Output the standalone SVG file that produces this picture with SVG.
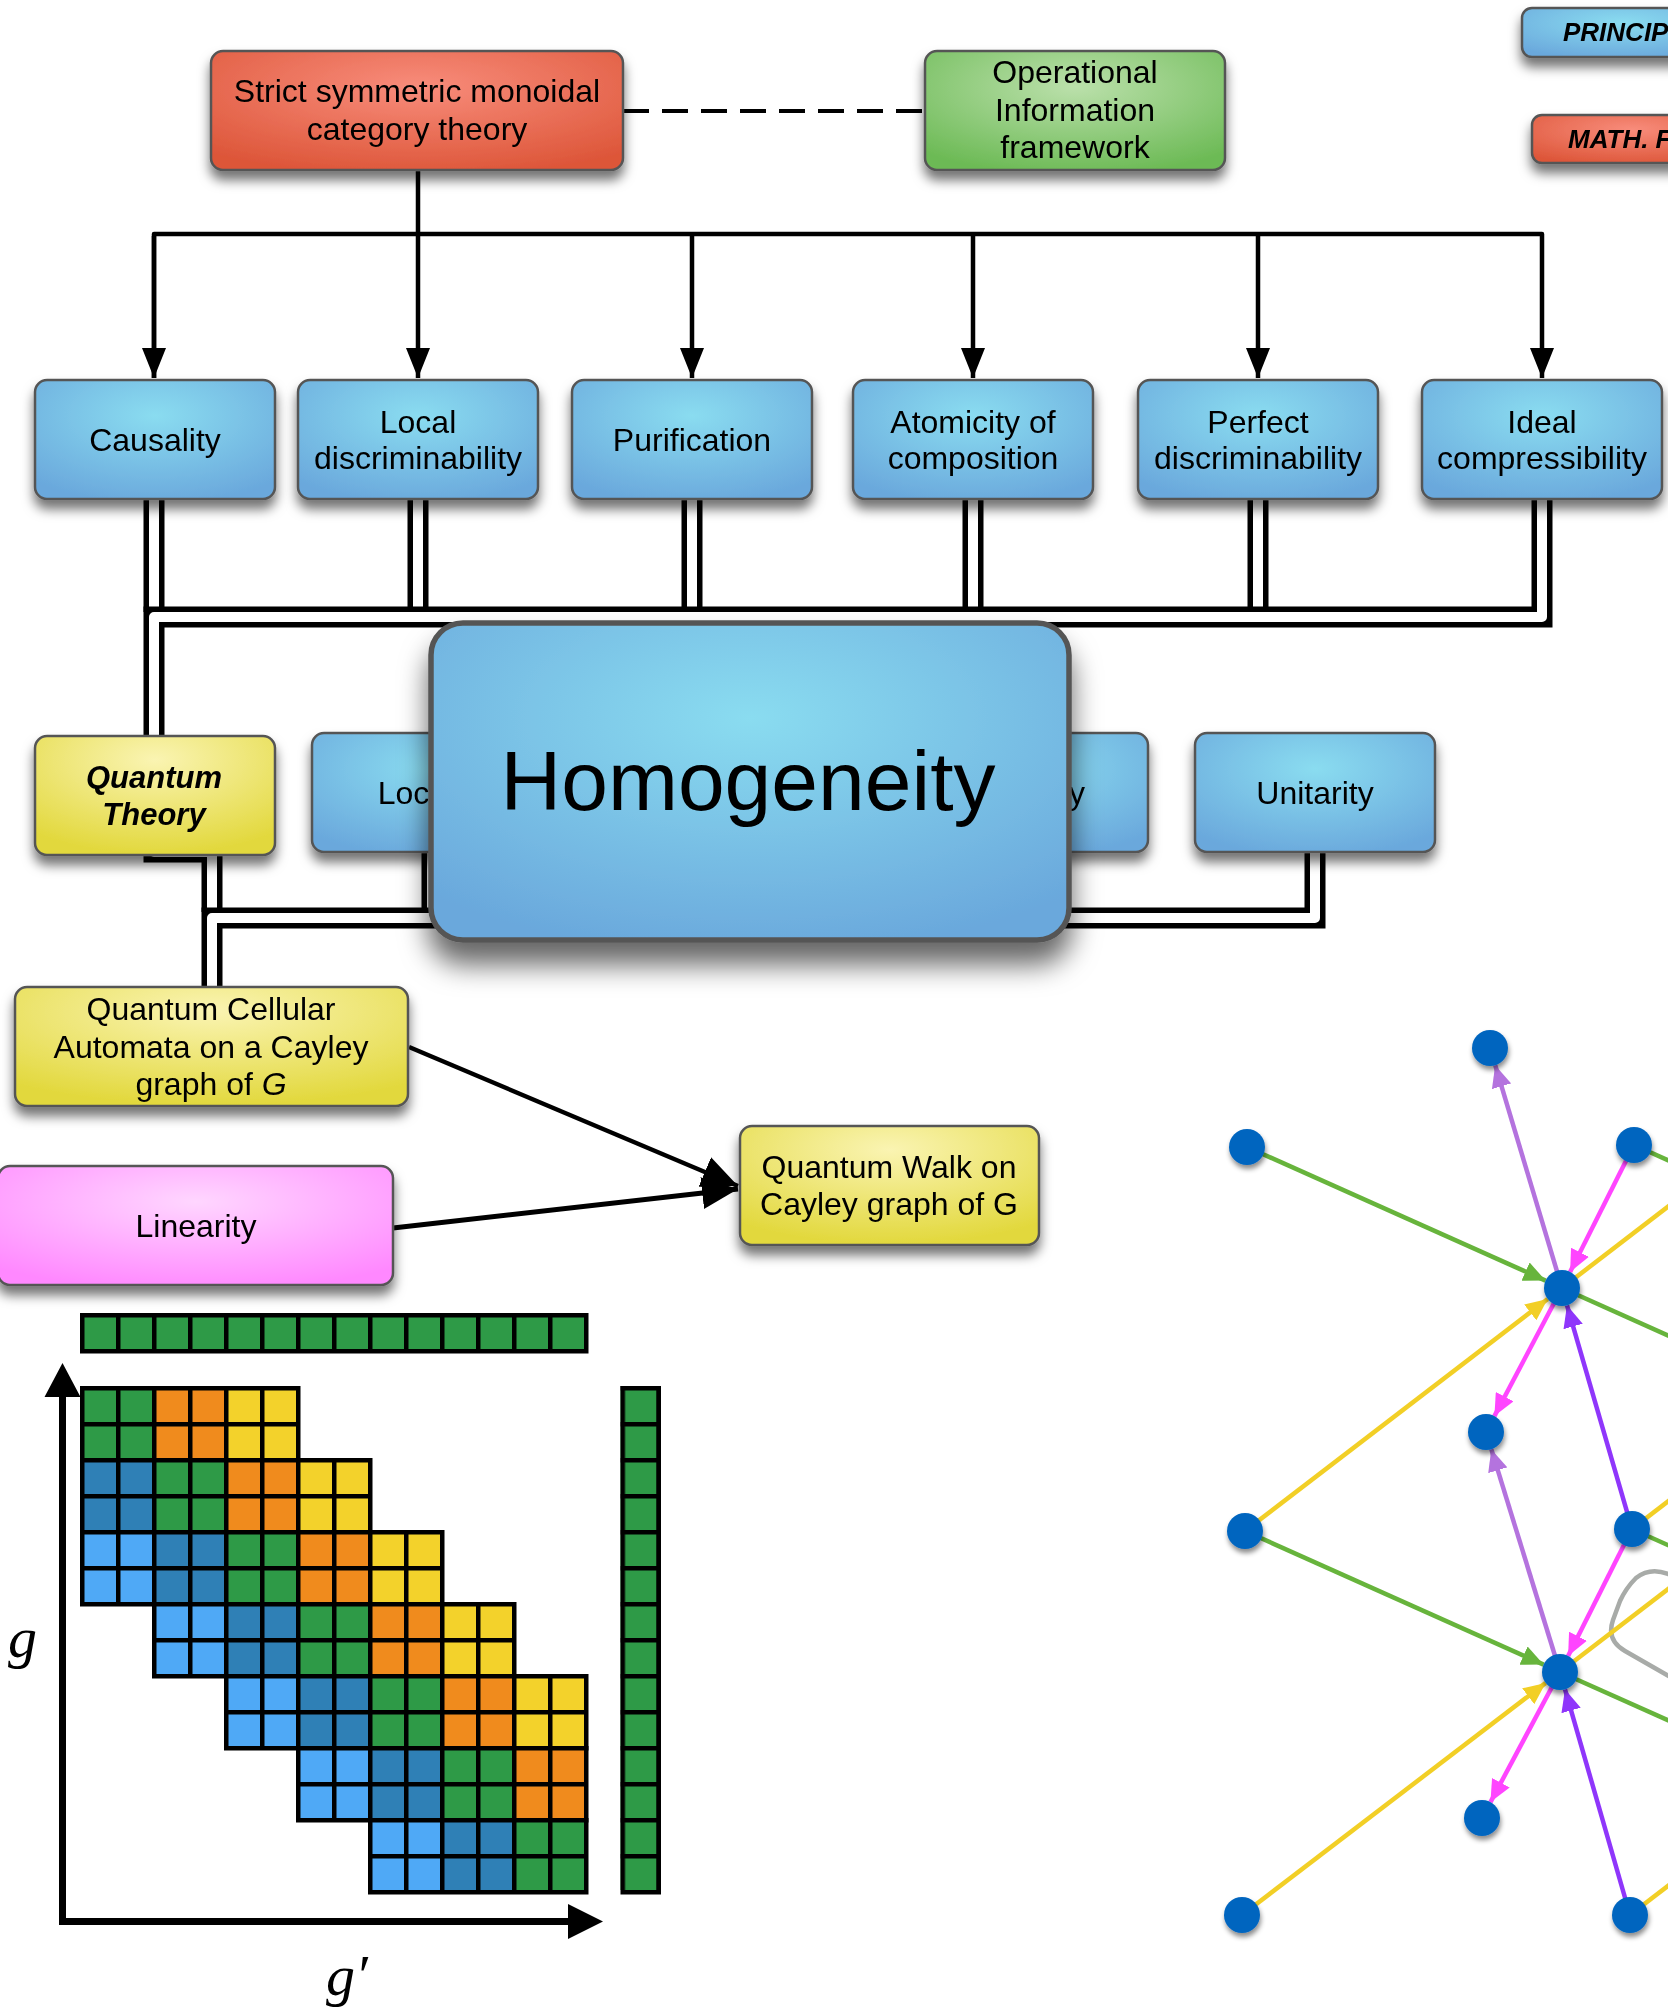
<svg xmlns="http://www.w3.org/2000/svg" width="1668" height="2007" viewBox="0 0 1668 2007">
<style>
.t{font-family:"Liberation Sans",Arial,Helvetica,sans-serif;font-size:32px;text-anchor:middle;fill:#000}
.tb{font-family:"Liberation Sans",Arial,Helvetica,sans-serif;font-weight:bold;font-style:italic;fill:#000}
.big{font-size:84px}
.box{stroke:#555;stroke-width:2.5}
.pipeB{fill:none;stroke:#000;stroke-width:21;stroke-linejoin:miter}
.pipeW{fill:none;stroke:#fff;stroke-width:10;stroke-linejoin:round}
.ln{fill:none;stroke:#000;stroke-width:4.5;stroke-linejoin:round}
.ge{fill:none;stroke-width:4.5}
.nd{fill:#0565bf}
.math{font-family:"Liberation Serif","Times New Roman",serif;font-style:italic;font-size:58px;fill:#000}
</style>
<defs>
<radialGradient id="gBlue" cx="0.5" cy="0.3" r="0.75"><stop offset="0" stop-color="#8adcf0"/><stop offset="1" stop-color="#6aa8dc"/></radialGradient>
<radialGradient id="gRed" cx="0.5" cy="0.3" r="0.75"><stop offset="0" stop-color="#f88c7b"/><stop offset="1" stop-color="#dd5639"/></radialGradient>
<radialGradient id="gGreen" cx="0.5" cy="0.3" r="0.75"><stop offset="0" stop-color="#bbe0ab"/><stop offset="1" stop-color="#6cba55"/></radialGradient>
<radialGradient id="gYellow" cx="0.5" cy="0.2" r="0.8"><stop offset="0" stop-color="#faf4b2"/><stop offset="1" stop-color="#e2d83c"/></radialGradient>
<radialGradient id="gPink" cx="0.5" cy="0.3" r="0.75"><stop offset="0" stop-color="#ffd6ff"/><stop offset="1" stop-color="#ff88ff"/></radialGradient>
<filter id="sh" x="-20%" y="-20%" width="140%" height="170%"><feDropShadow dx="0" dy="9" stdDeviation="6" flood-color="#000" flood-opacity="0.55"/></filter>
<filter id="shH" x="-20%" y="-20%" width="140%" height="150%"><feDropShadow dx="0" dy="22" stdDeviation="14" flood-color="#000" flood-opacity="0.6"/></filter>
<filter id="shN" x="-50%" y="-50%" width="200%" height="220%"><feDropShadow dx="1" dy="4" stdDeviation="2.5" flood-color="#000" flood-opacity="0.45"/></filter>
<marker id="at" markerUnits="userSpaceOnUse" markerWidth="30" markerHeight="24" refX="30" refY="12" orient="auto"><path d="M0 0 L30 12 L0 24 z" fill="#000"/></marker>
<marker id="ab" markerUnits="userSpaceOnUse" markerWidth="38" markerHeight="32" refX="36" refY="16" orient="auto"><path d="M0 0 L36 16 L0 32 z" fill="#000"/></marker>
<marker id="mG" markerUnits="userSpaceOnUse" markerWidth="22" markerHeight="20" refX="22" refY="10" orient="auto"><path d="M0 0 L22 10 L0 20 z" fill="#67b43c"/></marker>
<marker id="mY" markerUnits="userSpaceOnUse" markerWidth="22" markerHeight="20" refX="22" refY="10" orient="auto"><path d="M0 0 L22 10 L0 20 z" fill="#f2cf26"/></marker>
<marker id="mL" markerUnits="userSpaceOnUse" markerWidth="22" markerHeight="20" refX="22" refY="10" orient="auto"><path d="M0 0 L22 10 L0 20 z" fill="#b473de"/></marker>
<marker id="mM" markerUnits="userSpaceOnUse" markerWidth="22" markerHeight="20" refX="22" refY="10" orient="auto"><path d="M0 0 L22 10 L0 20 z" fill="#ff45ff"/></marker>
<marker id="mV" markerUnits="userSpaceOnUse" markerWidth="22" markerHeight="20" refX="22" refY="10" orient="auto"><path d="M0 0 L22 10 L0 20 z" fill="#8f36fb"/></marker>
<pattern id="pG" patternUnits="userSpaceOnUse" x="80" y="1386" width="36" height="36"><rect width="36" height="36" fill="#000"/><rect x="4.5" y="4.5" width="31.5" height="31.5" fill="#2e9a47"/></pattern>
<pattern id="pO" patternUnits="userSpaceOnUse" x="80" y="1386" width="36" height="36"><rect width="36" height="36" fill="#000"/><rect x="4.5" y="4.5" width="31.5" height="31.5" fill="#f08b1d"/></pattern>
<pattern id="pY" patternUnits="userSpaceOnUse" x="80" y="1386" width="36" height="36"><rect width="36" height="36" fill="#000"/><rect x="4.5" y="4.5" width="31.5" height="31.5" fill="#f3d22b"/></pattern>
<pattern id="pD" patternUnits="userSpaceOnUse" x="80" y="1386" width="36" height="36"><rect width="36" height="36" fill="#000"/><rect x="4.5" y="4.5" width="31.5" height="31.5" fill="#2f80b6"/></pattern>
<pattern id="pL" patternUnits="userSpaceOnUse" x="80" y="1386" width="36" height="36"><rect width="36" height="36" fill="#000"/><rect x="4.5" y="4.5" width="31.5" height="31.5" fill="#4fa9f6"/></pattern>
<pattern id="pGt" patternUnits="userSpaceOnUse" x="80" y="1313" width="36" height="36"><rect width="36" height="36" fill="#000"/><rect x="4.5" y="4.5" width="31.5" height="31.5" fill="#2e9a47"/></pattern>
<pattern id="pGr" patternUnits="userSpaceOnUse" x="620.5" y="1386" width="36" height="36"><rect width="36" height="36" fill="#000"/><rect x="4.5" y="4.5" width="31.5" height="31.5" fill="#2e9a47"/></pattern>
</defs>
<rect width="1668" height="2007" fill="#fff"/>

<g id="connectors">
  <line x1="623" y1="111" x2="925" y2="111" stroke="#000" stroke-width="4" stroke-dasharray="26 13"/>
  <path class="ln" d="M418 171 L418 378" marker-end="url(#at)"/>
  <path class="ln" d="M154 378 L154 234 L1542 234 L1542 378" marker-end="url(#at)"/>
  <path class="ln" d="M154 236 L154 378" marker-end="url(#at)"/>
  <path class="ln" d="M692 234 L692 378" marker-end="url(#at)"/>
  <path class="ln" d="M973 234 L973 378" marker-end="url(#at)"/>
  <path class="ln" d="M1258 234 L1258 378" marker-end="url(#at)"/>
  <g id="pipes-top">
    <path class="pipeB" d="M154 499 L154 612 M418 499 L418 612 M692 499 L692 612 M973 499 L973 612 M1258 499 L1258 612"/>
    <path class="pipeW" d="M154 499 L154 612 M418 499 L418 612 M692 499 L692 612 M973 499 L973 612 M1258 499 L1258 612"/>
    <path class="pipeB" d="M1542 499 L1542 617 L154 617 L154 852 L212 852 L212 912"/>
    <path class="pipeW" d="M1542 499 L1542 617 L154 617 L154 852 L212 852 L212 912"/>
  </g>
  <g id="pipes-bottom">
    <path class="pipeB" d="M432 850 L432 912 M1028 850 L1028 912"/>
    <path class="pipeW" d="M432 850 L432 912 M1028 850 L1028 912"/>
    <path class="pipeB" d="M1315 850 L1315 918 L212 918 L212 995"/>
    <path class="pipeW" d="M1315 850 L1315 918 L212 918 L212 995"/>
  </g>
  <path d="M409 1047 L738 1186" fill="none" stroke="#000" stroke-width="4.5" marker-end="url(#ab)"/>
  <path d="M393 1228 L738 1189" fill="none" stroke="#000" stroke-width="5" marker-end="url(#ab)"/>
</g>

<g id="legend-principles" filter="url(#sh)">
  <rect class="box" x="1522" y="8" width="200" height="49" rx="10" fill="url(#gBlue)"/>
  <text class="tb" x="1563" y="41" font-size="26">PRINCIPLES</text>
</g>
<g id="legend-math" filter="url(#sh)">
  <rect class="box" x="1532" y="115" width="200" height="48" rx="10" fill="url(#gRed)"/>
  <text class="tb" x="1568" y="148" font-size="26">MATH. FRAMEWORK</text>
</g>

<g id="node-category" filter="url(#sh)">
  <rect class="box" x="211" y="51" width="412" height="119" rx="12" fill="url(#gRed)"/>
  <text class="t" x="417" y="102">Strict symmetric monoidal</text>
  <text class="t" x="417" y="140">category theory</text>
</g>
<g id="node-operational" filter="url(#sh)">
  <rect class="box" x="925" y="51" width="300" height="119" rx="12" fill="url(#gGreen)"/>
  <text class="t" x="1075" y="83">Operational</text>
  <text class="t" x="1075" y="121">Information</text>
  <text class="t" x="1075" y="158">framework</text>
</g>

<g id="node-causality" filter="url(#sh)">
  <rect class="box" x="35" y="380" width="240" height="119" rx="12" fill="url(#gBlue)"/>
  <text class="t" x="155" y="451">Causality</text>
</g>
<g id="node-localdisc" filter="url(#sh)">
  <rect class="box" x="298" y="380" width="240" height="119" rx="12" fill="url(#gBlue)"/>
  <text class="t" x="418" y="433">Local</text>
  <text class="t" x="418" y="469">discriminability</text>
</g>
<g id="node-purification" filter="url(#sh)">
  <rect class="box" x="572" y="380" width="240" height="119" rx="12" fill="url(#gBlue)"/>
  <text class="t" x="692" y="451">Purification</text>
</g>
<g id="node-atomicity" filter="url(#sh)">
  <rect class="box" x="853" y="380" width="240" height="119" rx="12" fill="url(#gBlue)"/>
  <text class="t" x="973" y="433">Atomicity of</text>
  <text class="t" x="973" y="469">composition</text>
</g>
<g id="node-perfect" filter="url(#sh)">
  <rect class="box" x="1138" y="380" width="240" height="119" rx="12" fill="url(#gBlue)"/>
  <text class="t" x="1258" y="433">Perfect</text>
  <text class="t" x="1258" y="469">discriminability</text>
</g>
<g id="node-ideal" filter="url(#sh)">
  <rect class="box" x="1422" y="380" width="240" height="119" rx="12" fill="url(#gBlue)"/>
  <text class="t" x="1542" y="433">Ideal</text>
  <text class="t" x="1542" y="469">compressibility</text>
</g>

<g id="node-quantumtheory" filter="url(#sh)">
  <rect class="box" x="35" y="736" width="240" height="119" rx="12" fill="url(#gYellow)"/>
  <text class="tb" x="154" y="788" font-size="31" text-anchor="middle">Quantum</text>
  <text class="tb" x="154" y="825" font-size="31" text-anchor="middle">Theory</text>
</g>
<g id="node-locality" filter="url(#sh)">
  <rect class="box" x="312" y="733" width="240" height="119" rx="12" fill="url(#gBlue)"/>
  <text class="t" x="432" y="804">Locality</text>
</g>
<g id="node-isotropy" filter="url(#sh)">
  <rect class="box" x="908" y="733" width="240" height="119" rx="12" fill="url(#gBlue)"/>
  <text class="t" x="1028" y="804">Isotropy</text>
</g>
<g id="node-unitarity" filter="url(#sh)">
  <rect class="box" x="1195" y="733" width="240" height="119" rx="12" fill="url(#gBlue)"/>
  <text class="t" x="1315" y="804">Unitarity</text>
</g>
<g id="node-homogeneity" filter="url(#shH)">
  <rect x="431" y="623" width="638" height="317" rx="32" fill="url(#gBlue)" stroke="#555" stroke-width="5.5"/>
  <text class="t big" x="748" y="810">Homogeneity</text>
</g>

<g id="node-qca" filter="url(#sh)">
  <rect class="box" x="15" y="987" width="393" height="119" rx="12" fill="url(#gYellow)"/>
  <text class="t" x="211" y="1020">Quantum Cellular</text>
  <text class="t" x="211" y="1058">Automata on a Cayley</text>
  <text class="t" x="211" y="1095">graph of <tspan font-style="italic">G</tspan></text>
</g>
<g id="node-linearity" filter="url(#sh)">
  <rect class="box" x="-2" y="1166" width="395" height="119" rx="12" fill="url(#gPink)"/>
  <text class="t" x="196" y="1237">Linearity</text>
</g>
<g id="node-quantumwalk" filter="url(#sh)">
  <rect class="box" x="740" y="1126" width="299" height="119" rx="12" fill="url(#gYellow)"/>
  <text class="t" x="889" y="1178">Quantum Walk on</text>
  <text class="t" x="889" y="1215">Cayley graph of G</text>
</g>

<g id="matrix">
  <rect x="80" y="1313" width="508.5" height="40.5" fill="#000"/>
  <rect x="80" y="1313" width="504" height="36" fill="url(#pGt)"/>
  <rect x="620.5" y="1386" width="40.5" height="508.5" fill="#000"/>
  <rect x="620.5" y="1386" width="36" height="504" fill="url(#pGr)"/>
  <rect x="80" y="1386" width="220.5" height="76.5" fill="#000"/>
  <rect x="80" y="1458" width="292.5" height="76.5" fill="#000"/>
  <rect x="80" y="1530" width="364.5" height="76.5" fill="#000"/>
  <rect x="152" y="1602" width="364.5" height="76.5" fill="#000"/>
  <rect x="224" y="1674" width="364.5" height="76.5" fill="#000"/>
  <rect x="296" y="1746" width="292.5" height="76.5" fill="#000"/>
  <rect x="368" y="1818" width="220.5" height="76.5" fill="#000"/>
  <rect x="80" y="1386" width="72" height="72" fill="url(#pG)"/>
  <rect x="152" y="1386" width="72" height="72" fill="url(#pO)"/>
  <rect x="224" y="1386" width="72" height="72" fill="url(#pY)"/>
  <rect x="80" y="1458" width="72" height="72" fill="url(#pD)"/>
  <rect x="152" y="1458" width="72" height="72" fill="url(#pG)"/>
  <rect x="224" y="1458" width="72" height="72" fill="url(#pO)"/>
  <rect x="296" y="1458" width="72" height="72" fill="url(#pY)"/>
  <rect x="80" y="1530" width="72" height="72" fill="url(#pL)"/>
  <rect x="152" y="1530" width="72" height="72" fill="url(#pD)"/>
  <rect x="224" y="1530" width="72" height="72" fill="url(#pG)"/>
  <rect x="296" y="1530" width="72" height="72" fill="url(#pO)"/>
  <rect x="368" y="1530" width="72" height="72" fill="url(#pY)"/>
  <rect x="152" y="1602" width="72" height="72" fill="url(#pL)"/>
  <rect x="224" y="1602" width="72" height="72" fill="url(#pD)"/>
  <rect x="296" y="1602" width="72" height="72" fill="url(#pG)"/>
  <rect x="368" y="1602" width="72" height="72" fill="url(#pO)"/>
  <rect x="440" y="1602" width="72" height="72" fill="url(#pY)"/>
  <rect x="224" y="1674" width="72" height="72" fill="url(#pL)"/>
  <rect x="296" y="1674" width="72" height="72" fill="url(#pD)"/>
  <rect x="368" y="1674" width="72" height="72" fill="url(#pG)"/>
  <rect x="440" y="1674" width="72" height="72" fill="url(#pO)"/>
  <rect x="512" y="1674" width="72" height="72" fill="url(#pY)"/>
  <rect x="296" y="1746" width="72" height="72" fill="url(#pL)"/>
  <rect x="368" y="1746" width="72" height="72" fill="url(#pD)"/>
  <rect x="440" y="1746" width="72" height="72" fill="url(#pG)"/>
  <rect x="512" y="1746" width="72" height="72" fill="url(#pO)"/>
  <rect x="368" y="1818" width="72" height="72" fill="url(#pL)"/>
  <rect x="440" y="1818" width="72" height="72" fill="url(#pD)"/>
  <rect x="512" y="1818" width="72" height="72" fill="url(#pG)"/>
  <path d="M62.5 1925 L62.5 1394 M59 1921.5 L570 1921.5" fill="none" stroke="#000" stroke-width="7"/>
  <path d="M62.5 1363 L44.5 1397 L80.5 1397 z M603 1921.5 L568 1904 L568 1939 z" fill="#000"/>
  <text class="math" x="8" y="1657">g</text>
  <text class="math" x="326" y="1995">g′</text>
</g>

<g id="graph-edges">
  <path d="M1700 1585 L1668 1574 Q1650 1567 1636 1578 Q1626 1588 1620 1601 L1613 1620 Q1606 1640 1625 1651 L1700 1694" fill="none" stroke="#a8aba8" stroke-width="4.5"/>
  <line class="ge" stroke="#67b43c" x1="1634" y1="1145" x2="1680" y2="1165.6"/>
  <line class="ge" stroke="#67b43c" x1="1562" y1="1288" x2="1680" y2="1340.8"/>
  <line class="ge" stroke="#f2cf26" x1="1562" y1="1288" x2="1680" y2="1197.5"/>
  <line class="ge" stroke="#f2cf26" x1="1632" y1="1529" x2="1680" y2="1492.2"/>
  <line class="ge" stroke="#67b43c" x1="1632" y1="1529" x2="1680" y2="1550.5"/>
  <line class="ge" stroke="#f2cf26" x1="1560" y1="1672" x2="1680" y2="1580"/>
  <line class="ge" stroke="#67b43c" x1="1560" y1="1672" x2="1680" y2="1725.7"/>
  <line class="ge" stroke="#f2cf26" x1="1630" y1="1915" x2="1680" y2="1876.7"/>
  <line class="ge" stroke="#67b43c" x1="1247" y1="1147" x2="1545.6" y2="1280.6" marker-end="url(#mG)"/>
  <line class="ge" stroke="#b473de" x1="1562" y1="1288" x2="1495.2" y2="1065.2" marker-end="url(#mL)"/>
  <line class="ge" stroke="#ff45ff" x1="1634" y1="1145" x2="1570.1" y2="1271.9" marker-end="url(#mM)"/>
  <line class="ge" stroke="#f2cf26" x1="1245" y1="1531" x2="1547.7" y2="1299" marker-end="url(#mY)"/>
  <line class="ge" stroke="#8f36fb" x1="1632" y1="1529" x2="1567" y2="1305.3" marker-end="url(#mV)"/>
  <line class="ge" stroke="#ff45ff" x1="1562" y1="1288" x2="1494.4" y2="1416.1" marker-end="url(#mM)"/>
  <line class="ge" stroke="#b473de" x1="1560" y1="1672" x2="1491.3" y2="1449.2" marker-end="url(#mL)"/>
  <line class="ge" stroke="#67b43c" x1="1245" y1="1531" x2="1543.6" y2="1664.6" marker-end="url(#mG)"/>
  <line class="ge" stroke="#f2cf26" x1="1242" y1="1915" x2="1545.7" y2="1682.9" marker-end="url(#mY)"/>
  <line class="ge" stroke="#ff45ff" x1="1632" y1="1529" x2="1568.1" y2="1655.9" marker-end="url(#mM)"/>
  <line class="ge" stroke="#8f36fb" x1="1630" y1="1915" x2="1565" y2="1689.3" marker-end="url(#mV)"/>
  <line class="ge" stroke="#ff45ff" x1="1560" y1="1672" x2="1490.5" y2="1802.1" marker-end="url(#mM)"/>
</g>
<g id="graph-nodes" filter="url(#shN)">
  <circle id="v-n1" class="nd" cx="1490" cy="1048" r="18"/>
  <circle id="v-n2" class="nd" cx="1247" cy="1147" r="18"/>
  <circle id="v-n3" class="nd" cx="1634" cy="1145" r="18"/>
  <circle id="v-c1" class="nd" cx="1562" cy="1288" r="18"/>
  <circle id="v-n4" class="nd" cx="1486" cy="1432" r="18"/>
  <circle id="v-n5" class="nd" cx="1245" cy="1531" r="18"/>
  <circle id="v-n6" class="nd" cx="1632" cy="1529" r="18"/>
  <circle id="v-c2" class="nd" cx="1560" cy="1672" r="18"/>
  <circle id="v-n7" class="nd" cx="1482" cy="1818" r="18"/>
  <circle id="v-n8" class="nd" cx="1242" cy="1915" r="18"/>
  <circle id="v-n9" class="nd" cx="1630" cy="1915" r="18"/>
</g>
</svg>
